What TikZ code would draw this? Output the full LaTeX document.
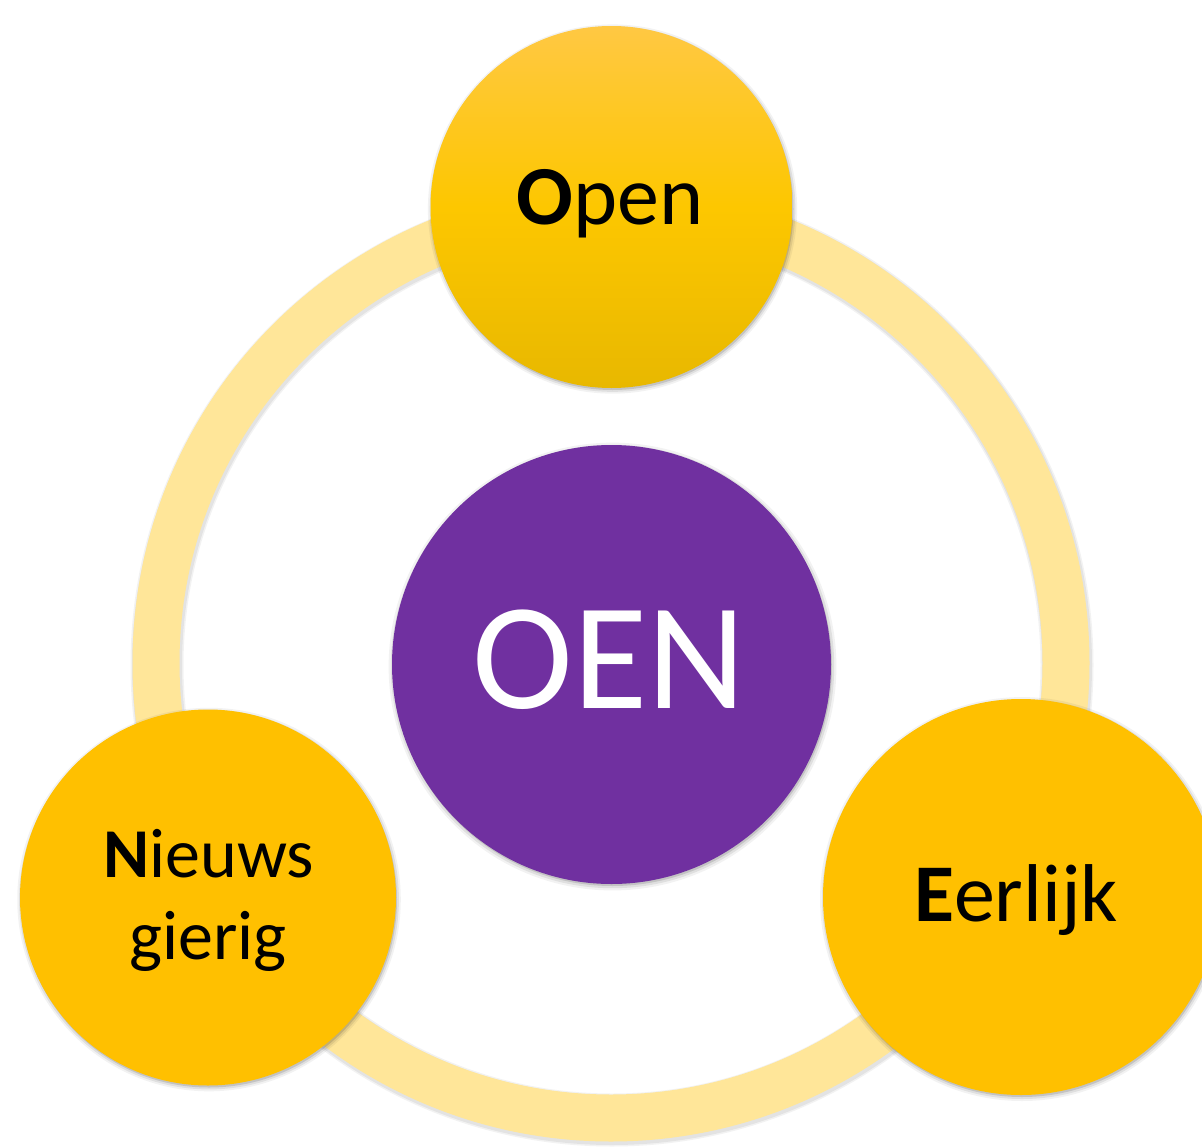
\documentclass[tikz,border=0pt]{standalone}
\usepackage{fontspec}
\setmainfont{Carlito}
\usetikzlibrary{shadows,shadings}
\definecolor{ringyellow}{HTML}{FFE699}
\definecolor{gold}{HTML}{FFC000}
\definecolor{goldtop}{HTML}{FFC843}
\definecolor{goldmid}{HTML}{FDC700}
\definecolor{goldbot}{HTML}{E8B800}
\definecolor{oenpurple}{HTML}{7030A0}
\tikzset{
  softshadow/.style={
    drop shadow={shadow xshift=1pt,shadow yshift=-2pt,shadow scale=1.02,opacity=0.05,fill=black},
    drop shadow={shadow xshift=1pt,shadow yshift=-2pt,shadow scale=1.01,opacity=0.08,fill=black},
    drop shadow={shadow xshift=1pt,shadow yshift=-2pt,shadow scale=1.0,opacity=0.12,fill=black}},
  goldcircle/.style={circle,fill=gold,inner sep=0pt,softshadow,text=black,align=center},
}
\begin{document}
\begin{tikzpicture}[x=1pt,y=-1pt]
\useasboundingbox (0,0) rectangle (1202,1146);
\clip (0,0) rectangle (1202,1146);
\fill[white] (0,0) rectangle (1202,1146);
% ring with soft shadow
\draw[black,opacity=0.05,line width=53pt] (612,665) circle[radius=455];
\draw[black,opacity=0.06,line width=50pt] (612,665) circle[radius=455];
\draw[ringyellow,line width=47pt] (611,663) circle[radius=455];
% centre
\node[circle,fill=oenpurple,minimum size=439pt,inner sep=0pt,softshadow] (oen) at (611.5,664.5) {};
\node[text=white,anchor=base,font=\fontsize{152}{152}\selectfont] (oent) at (609,708) {OEN};
% Open
\node[circle,minimum size=362pt,inner sep=0pt,softshadow,top color=goldtop,bottom color=goldbot,middle color=goldmid,shading angle=0] (open) at (611.5,207) {};
\node[anchor=base,font=\fontsize{84}{84}\selectfont] (opent) at (610,224) {\textbf{O}pen};
% Eerlijk
\node[goldcircle,minimum size=396pt] (eer) at (1021,897) {};
\node[anchor=base,font=\fontsize{82}{82}\selectfont] (eert) at (1016,921) {\textbf{E}erlijk};
% Nieuwsgierig
\node[goldcircle,minimum size=376pt] (nieuw) at (208,897.5) {};
\node[anchor=base,font=\fontsize{70}{82}\selectfont] (n1) at (209,877) {\textbf{N}ieuws};
\node[anchor=base,font=\fontsize{70}{82}\selectfont] (n2) at (208,959) {gierig};
\end{tikzpicture}
\end{document}
